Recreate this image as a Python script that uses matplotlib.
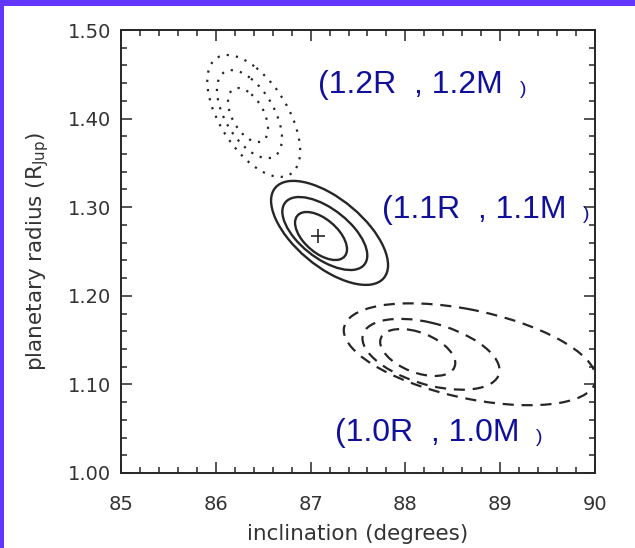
import numpy as np
import matplotlib.pyplot as plt
from matplotlib.patches import Ellipse, Rectangle
from matplotlib.ticker import MultipleLocator, FormatStrFormatter

# confidence contours for three planet models (inner, middle, outer level)
# each contour: centre, half-width in inclination, half-height in radius, correlation
dot_cx = [86.34, 86.355, 86.40]
dot_cy = [1.404, 1.405, 1.403]
dot_hx = [0.211, 0.343, 0.49]
dot_hy = [0.0305, 0.0497, 0.0688]
dot_rho = [-0.5, -0.55, -0.57]

sol_cx = [87.11, 87.15, 87.20]
sol_cy = [1.2675, 1.2703, 1.271]
sol_hx = [0.274, 0.448, 0.617]
sol_hy = [0.0271, 0.0412, 0.0587]
sol_rho = [-0.55, -0.6, -0.62]

dash_cx = [88.13, 88.27, 88.68]
dash_cy = [1.136, 1.134, 1.134]
dash_hx = [0.396, 0.723, 1.33]
dash_hy = [0.0265, 0.040, 0.0575]
dash_rho = [-0.45, -0.45, -0.47]

best_fit = (87.08, 1.268)

labels = ["(1.2R  , 1.2M", "(1.1R  , 1.1M", "(1.0R  , 1.0M"]
label_x = [87.08, 87.75, 87.26]
label_y = [1.438, 1.297, 1.045]

ink = "#262626"
grey = "#333333"
blue = "#10109c"


def contour_ellipse(cx, cy, hx, hy, rho, **kw):
    cov = np.array([[hx * hx, rho * hx * hy], [rho * hx * hy, hy * hy]])
    w, v = np.linalg.eigh(cov)
    angle = np.degrees(np.arctan2(v[1, 1], v[0, 1]))
    return Ellipse((cx, cy), 2 * np.sqrt(w[1]), 2 * np.sqrt(w[0]),
                   angle=angle, fill=False, **kw)


fig = plt.figure(figsize=(6.35, 5.48), dpi=100)
fig.patch.set_facecolor("#6236ff")
fig.add_artist(Rectangle((4 / 635, 0), 1, 1 - 6 / 548, transform=fig.transFigure,
                         facecolor="white", edgecolor="none", zorder=0))

ax = fig.add_axes([121 / 635, 1 - 473 / 548, (595 - 121) / 635, (473 - 30) / 548])
ax.set_xlim(85, 90)
ax.set_ylim(1.0, 1.5)

for i in range(3):
    ax.add_patch(contour_ellipse(dot_cx[i], dot_cy[i], dot_hx[i], dot_hy[i], dot_rho[i],
                                 edgecolor=ink, lw=1.6, linestyle=(0, (1, 3.2))))
    ax.add_patch(contour_ellipse(sol_cx[i], sol_cy[i], sol_hx[i], sol_hy[i], sol_rho[i],
                                 edgecolor=ink, lw=1.7))
    ax.add_patch(contour_ellipse(dash_cx[i], dash_cy[i], dash_hx[i], dash_hy[i], dash_rho[i],
                                 edgecolor=ink, lw=1.6, linestyle=(0, (5, 3.5))))

ax.plot(best_fit[0], best_fit[1], marker="+", color=ink, markersize=10, mew=1.2)

# model labels; the closing bracket is set small, as in subscript size
for txt, x, y in zip(labels, label_x, label_y):
    t = ax.text(x, y, txt, color=blue, fontsize=23, family="Liberation Sans",
                ha="left", va="center", clip_on=False)
    ax.annotate(")", xy=(1, 0), xycoords=t, xytext=(12, 1.5), textcoords="offset points",
                color=blue, fontsize=14, family="Liberation Sans",
                ha="left", va="bottom", annotation_clip=False)

ax.xaxis.set_major_locator(MultipleLocator(1))
ax.xaxis.set_minor_locator(MultipleLocator(0.2))
ax.yaxis.set_major_locator(MultipleLocator(0.1))
ax.yaxis.set_minor_locator(MultipleLocator(0.02))
ax.xaxis.set_major_formatter(FormatStrFormatter("%d"))
ax.yaxis.set_major_formatter(FormatStrFormatter("%.2f"))
ax.tick_params(which="both", direction="in", top=True, right=True,
               color=ink, width=1.1, labelsize=14, labelcolor=grey)
ax.tick_params(which="major", length=8)
ax.tick_params(which="minor", length=4.5)
ax.tick_params(axis="x", which="major", pad=16)
ax.tick_params(axis="y", which="major", pad=7)
for s in ax.spines.values():
    s.set_color(ink)
    s.set_linewidth(1.4)

ax.set_xlabel("inclination (degrees)", fontsize=15.5, color=grey, labelpad=7)
ax.set_ylabel("planetary radius (R$_{\\rm Jup}$)", fontsize=15.5, color=grey, labelpad=12)

fig.savefig("out.png", dpi=100, facecolor=fig.get_facecolor())
